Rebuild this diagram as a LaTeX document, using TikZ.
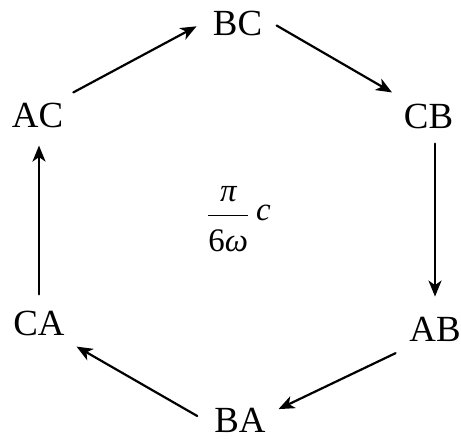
\documentclass[tikz,border=0pt]{standalone}
\usepackage{fontspec}
\setmainfont{Liberation Serif}
\usetikzlibrary{arrows.meta}

\tikzset{
	state/.style={inner sep=10bp, font=\fontsize{37}{40}\selectfont},
	flow/.style={line width=2.2bp, -{Stealth[length=16bp, width=13bp, inset=4.5bp]}}
}

\begin{document}
\begin{tikzpicture}[x=1bp, y=-1bp, line join=round, line cap=round]
			\useasboundingbox (0,0) rectangle (461,439);
			
			%
			\node[state] (BC) at (237.5, 23) {BC};
			\node[state] (CB) at (428.5, 116) {CB};
			\node[state] (AB) at (435, 329) {AB};
			\node[state] (BA) at (240, 420) {BA};
			\node[state] (CA) at (39, 323) {CA};
			\node[state] (AC) at (37.5, 115) {AC};
			
			\node[font=\fontsize{33}{36}\selectfont, anchor=base, inner sep=0pt] (T) at (239, 221)
				{$\displaystyle\frac{\mbox{\itshape π}\rule[-12bp]{0pt}{12bp}}{\rule{0pt}{35bp}\mbox{6\itshape ω}}\;\mbox{\itshape c}$};
			
			\draw[flow, shorten >=7bp] (AC.north east) -- (BC.west);
			\draw[flow, shorten <=5bp, shorten >=2bp] (BC.east) -- (CB.north west);
			\draw[flow, shorten <=5bp, shorten >=10bp] (CB.south -| AB.north) -- (AB.north);
			\draw[flow, shorten <=4bp, shorten >=3bp] (AB.south west) -- (BA.15);
			\draw[flow, shorten <=8bp, shorten >=2bp] (BA.west) -- (CA.south east);
			\draw[flow, shorten <=6bp, shorten >=8bp] (CA.north) -- (CA.north |- AC.south);
	\end{tikzpicture}
\end{document}
